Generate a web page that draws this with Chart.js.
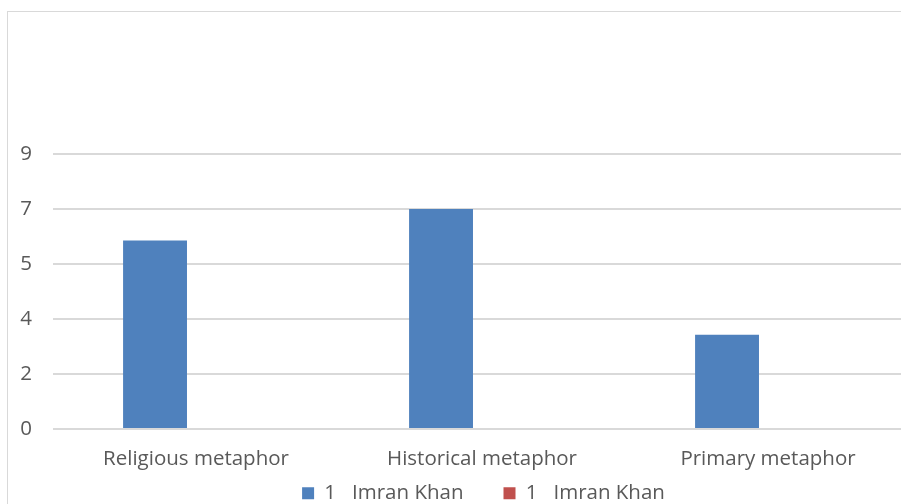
<!DOCTYPE html>
<html><head><meta charset="utf-8">
<script src="https://cdn.jsdelivr.net/npm/chart.js@4/dist/chart.umd.min.js"></script>
<style>
html,body{margin:0;padding:0;background:#fff;overflow:hidden;width:901px;height:504px;}
#frame{position:absolute;left:7px;top:11px;width:940px;height:580px;border:1px solid #d9d9d9;box-sizing:border-box;}
canvas{position:absolute;left:0;top:0;}
</style></head>
<body>
<div id="frame"><canvas id="c" width="903" height="543"></canvas></div>
<script>
const categories = ["Religious metaphor", "Historical metaphor", "Primary metaphor"];
const series1Name = "1   Imran Khan";
const series1 = [6, 7, 3];
const series2Name = "1   Imran Khan";
const series2 = [0, 0, 0];
const yMax = 8.75;
const yStep = 1.75;

const FONT = "'Open Sans', 'Noto Sans', sans-serif";
const FS = 20.5;

// Move the library-drawn legend closer to the axis labels (as in the reference)
const legendPlace = {
  id: 'legendPlace',
  afterLayout(chart) {
    const lg = chart.legend;
    const dy = 431 - lg.top;
    lg.top += dy; lg.bottom += dy;
    const dx = 24;
    lg.left += dx; lg.right += dx;
  }
};

const ctx = document.getElementById('c').getContext('2d');
new Chart(ctx, {
  type: 'bar',
  data: {
    labels: categories,
    datasets: [
      {label: series1Name, data: series1, backgroundColor: '#4f81bd', borderWidth: 0,
       categoryPercentage: 0.573, barPercentage: 0.78},
      {label: series2Name, data: series2, backgroundColor: '#c0504d', borderWidth: 0,
       categoryPercentage: 0.573, barPercentage: 0.78}
    ]
  },
  plugins: [legendPlace],
  options: {
    responsive: false,
    animation: false,
    layout: {padding: {top: 142, right: 0, bottom: 0, left: 0}},
    plugins: {
      title: {display: false},
      tooltip: {enabled: false},
      legend: {
        position: 'bottom',
        labels: {
          boxWidth: 12, boxHeight: 12, padding: 40,
          color: '#595959',
          font: {family: FONT, size: FS}
        }
      }
    },
    scales: {
      x: {
        afterFit: (s) => { s.height = 55.5; },
        grid: {display: false},
        border: {display: false},
        ticks: {color: '#595959', font: {family: FONT, size: FS}, padding: 10, maxRotation: 0}
      },
      y: {
        min: 0, max: yMax,
        afterFit: (s) => { s.width = 45; },
        grid: {color: '#d9d9d9', lineWidth: 2, drawTicks: false},
        border: {display: false},
        ticks: {stepSize: yStep, color: '#595959', font: {family: FONT, size: FS}, padding: 21,
          callback: (v) => Math.round(v)}
      }
    }
  }
});
</script>
</body></html>
